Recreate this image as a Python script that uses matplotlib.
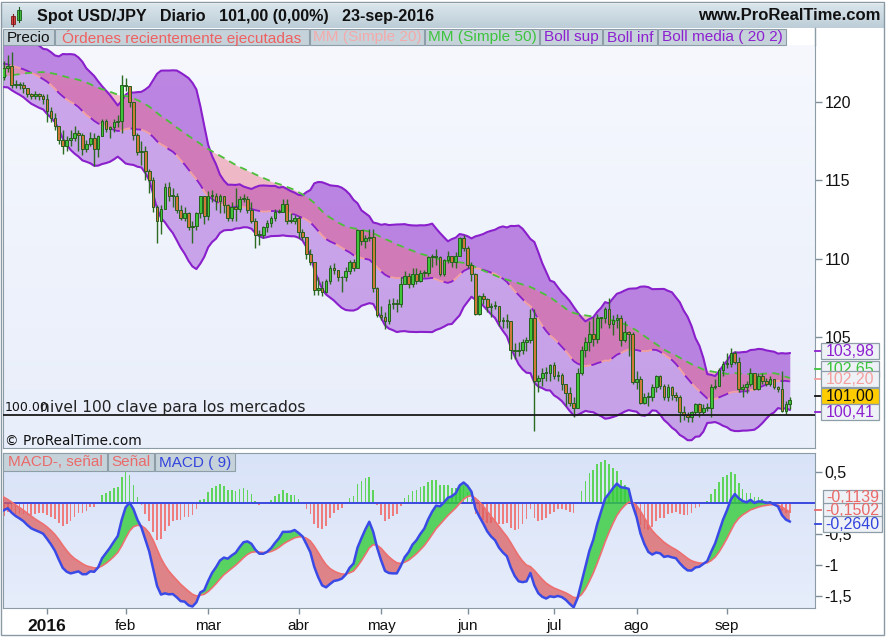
import numpy as np
import pandas as pd
import matplotlib
matplotlib.use('Agg')
import matplotlib.pyplot as plt
from matplotlib.patches import Rectangle

plt.rcParams['font.family'] = ['Liberation Sans', 'DejaVu Sans']

# ---------------- data (USD/JPY daily) ----------------
warmup_close = [120.0, 120.2, 120.1, 119.8, 120.6, 119.9, 119.8, 119.9, 119.9, 119.9,
                120.4, 120.2, 120.0, 119.9, 120.2, 120.0, 119.7, 118.8, 118.9, 119.4,
                119.4, 119.8, 119.9, 120.0, 121.5, 121.1, 120.4, 121.1, 121.0, 120.6,
                120.6, 121.0, 121.3, 121.6, 123.2, 123.2, 123.2, 122.9, 122.6, 122.6,
                123.2, 123.4, 123.7, 122.8, 122.8, 122.8, 122.5, 122.5, 122.6, 122.8,
                123.1, 122.9, 123.2, 122.6, 123.2, 123.3, 123.0, 121.6, 121.6, 120.9,
                120.7, 121.6]

close = [122.2, 122.3, 121.1, 121.1, 121.1, 120.9, 120.5, 120.4, 120.5, 120.4, 120.2,
         119.4, 119.0, 118.5, 117.6, 117.2, 117.6, 117.7, 118.0, 117.9, 117.0, 117.3, 117.7, 117.0, 117.8, 118.8, 118.3, 118.4, 118.7, 118.8, 121.1,
         121.0, 120.0, 117.9, 116.8, 116.9, 115.6, 115.0, 113.3, 112.4, 113.2, 114.6, 114.0, 114.0, 113.1, 112.6, 112.9, 112.0, 112.1, 112.9, 114.0, 112.7,
         114.0, 114.0, 113.7, 114.0, 113.4, 112.6, 113.3, 113.2, 113.8, 113.8, 113.1, 112.4, 111.5, 111.5, 112.0, 112.3, 112.6, 113.0, 113.0, 113.5, 112.4, 112.4, 112.6,
         111.7, 111.4, 110.3, 109.8, 108.0, 108.1, 107.9, 108.6, 109.4, 109.3, 108.8, 108.8, 109.2, 109.8, 109.4, 111.8, 111.1, 111.3, 111.4, 108.1, 106.4,
         106.3, 106.0, 107.1, 107.2, 107.1, 108.4, 108.9, 108.4, 109.0, 108.6, 109.1, 109.1, 110.1, 110.1, 110.1, 109.0, 109.9, 110.2, 109.8, 110.2, 111.3, 110.7,
         109.6, 109.0, 106.5, 107.6, 107.4, 106.9, 107.0, 107.0, 106.0, 106.1, 106.0, 104.2, 104.1, 104.2, 104.7, 104.8, 106.2, 102.2, 102.4, 102.7, 102.7, 103.2,
         102.5, 102.6, 102.0, 101.4, 100.8, 100.5, 102.7, 104.2, 104.7, 105.2, 104.9, 106.2, 106.2, 106.8, 105.8, 106.1, 106.2, 104.8, 105.3, 105.2, 102.1,
         102.3, 100.8, 101.2, 101.2, 101.8, 102.5, 101.9, 101.2, 101.8, 101.3, 101.2, 100.2, 100.0, 99.9, 100.2, 100.7, 100.2, 100.5, 100.5, 101.8, 101.9, 102.9, 103.3,
         103.3, 104.0, 103.4, 101.7, 101.8, 102.0, 102.7, 101.7, 102.5, 102.2, 102.0, 102.3, 101.8, 101.7, 100.3, 100.7, 101.0]

high = [122.6, 123.0, 123.2, 121.4, 121.3, 121.3, 120.9, 120.6, 120.7, 120.6, 120.5,
        120.5, 119.7, 119.3, 118.5, 118.2, 117.8, 118.2, 118.5, 118.2, 118.0, 117.6, 118.1, 118.0, 117.9, 118.9, 118.9, 118.5, 118.9, 119.2, 121.7,
        121.5, 121.0, 120.0, 118.0, 117.5, 117.2, 115.7, 115.2, 113.4, 113.4, 114.8, 114.9, 114.5, 114.2, 113.4, 113.3, 113.0, 112.4, 113.0, 114.0, 114.0,
        114.3, 114.4, 114.2, 114.1, 113.7, 113.5, 113.6, 114.5, 114.0, 114.1, 114.0, 113.6, 112.6, 111.8, 112.1, 112.5, 112.7, 113.2, 113.2, 113.8, 113.8, 112.9, 112.8,
        112.7, 111.9, 111.4, 110.6, 109.8, 108.8, 108.6, 108.7, 109.6, 109.7, 109.3, 108.9, 109.5, 109.9, 110.0, 111.9, 111.8, 111.5, 111.9, 111.9, 108.2,
        107.0, 106.6, 107.4, 107.5, 107.4, 108.8, 109.2, 109.1, 109.4, 109.4, 109.3, 109.3, 110.2, 110.3, 110.6, 110.2, 110.0, 110.5, 110.2, 110.4, 111.4, 111.5,
        110.8, 109.8, 109.1, 107.7, 107.8, 107.5, 107.2, 107.3, 107.0, 106.3, 106.5, 106.0, 104.6, 104.7, 104.9, 105.0, 106.8, 106.8, 102.6, 103.0, 103.1, 103.3,
        103.4, 102.8, 102.7, 101.9, 101.8, 101.2, 103.0, 104.4, 105.0, 106.0, 106.3, 106.5, 106.3, 106.9, 107.5, 106.4, 106.5, 106.4, 106.0, 105.4, 105.3,
        102.8, 102.5, 101.4, 101.5, 102.0, 102.6, 102.6, 102.0, 102.0, 101.9, 101.5, 101.3, 100.6, 100.2, 100.3, 100.8, 100.8, 100.7, 100.8, 102.0, 102.3, 103.0, 103.5,
        104.0, 104.3, 104.1, 103.7, 102.0, 102.2, 103.0, 102.7, 102.7, 102.7, 102.4, 102.5, 102.1, 101.9, 102.8, 100.9, 101.2]

low = [121.4, 121.9, 120.9, 120.9, 120.8, 120.6, 120.3, 120.2, 120.2, 120.1, 119.9,
       118.7, 118.7, 118.2, 117.3, 116.7, 116.9, 117.2, 117.5, 116.9, 116.6, 116.8, 117.2, 115.9, 116.5, 117.8, 118.1, 117.7, 118.1, 118.4, 118.0,
       120.7, 119.7, 117.6, 116.6, 116.0, 115.0, 114.2, 113.0, 111.0, 111.6, 113.2, 113.7, 113.3, 112.9, 112.5, 112.4, 111.8, 111.0, 111.8, 112.6, 112.2,
       112.5, 113.6, 113.1, 112.9, 112.9, 112.4, 112.4, 112.4, 113.0, 113.6, 112.9, 112.3, 110.7, 110.9, 111.3, 111.7, 112.0, 112.4, 112.9, 113.1, 112.2, 112.3, 112.2,
       111.3, 111.2, 110.0, 109.6, 107.7, 107.7, 107.6, 107.8, 108.4, 109.0, 108.6, 107.9, 108.6, 109.0, 109.2, 109.5, 110.9, 110.7, 111.1, 107.9, 106.3,
       106.1, 105.5, 105.8, 106.8, 106.6, 106.9, 108.4, 108.1, 108.2, 108.4, 108.5, 108.8, 108.9, 109.5, 109.6, 108.9, 108.9, 109.7, 109.5, 109.4, 110.3, 110.5,
       109.4, 108.6, 106.4, 106.4, 107.1, 106.6, 106.3, 106.8, 105.7, 105.6, 105.6, 103.6, 103.6, 103.8, 103.9, 104.1, 104.6, 99.0, 101.5, 101.9, 102.2, 102.2,
       102.3, 102.2, 101.6, 100.6, 100.6, 99.9, 100.8, 102.6, 103.7, 104.1, 104.4, 104.6, 105.6, 105.9, 105.6, 105.1, 105.6, 104.4, 104.7, 103.8, 102.0,
       101.7, 100.7, 100.7, 100.6, 100.9, 101.5, 101.7, 101.0, 100.9, 101.0, 100.9, 99.6, 99.7, 99.6, 99.6, 100.0, 99.9, 100.1, 100.3, 99.9, 101.7, 101.9, 102.5,
       103.0, 103.1, 103.3, 101.5, 101.2, 101.4, 101.9, 101.6, 101.6, 102.0, 101.9, 101.9, 101.7, 101.5, 100.2, 100.1, 100.4]

first_day, last_day = '2015-12-16', '2016-09-23'
holidays = ['2015-12-25', '2016-01-01']
month_names = {1: '2016', 2: 'feb', 3: 'mar', 4: 'abr', 5: 'may', 6: 'jun',
               7: 'jul', 8: 'ago', 9: 'sep'}
price_ticks = [105, 110, 115, 120]
macd_ticks = [0.5, -0.5, -1.0, -1.5]
macd_tick_labels = ['0,5', '-0,5', '-1', '-1,5']
level_100 = 100.00
# last values shown in the right-hand boxes
last_boll_sup, last_mm50, last_mm20, last_price, last_boll_inf = 103.98, 102.65, 102.20, 101.00, 100.41
last_hist, last_signal, last_macd = -0.1139, -0.1502, -0.2640

# ---------------- derived ----------------
dates = pd.bdate_range(first_day, last_day)
dates = dates[~dates.isin(pd.to_datetime(holidays))]
N = len(close)
assert len(dates) == N and len(high) == N and len(low) == N

s = pd.Series(warmup_close + close)
sma20 = s.rolling(20).mean()
sd20 = s.rolling(20).std(ddof=0)
bup = sma20 + 2 * sd20
bdn = sma20 - 2 * sd20
sma50 = s.rolling(50).mean()
ema12 = s.ewm(span=12, adjust=False).mean()
ema26 = s.ewm(span=26, adjust=False).mean()
macd = ema12 - ema26
sig = macd.ewm(span=9, adjust=False).mean()
hist = macd - sig

W0 = len(warmup_close)
k0 = W0 - 1  # include one hidden point on the left so lines enter from the edge
xl = np.arange(-1, N)
def tail(series):
    return series.values[k0:]
BU, BD, M20, M50 = tail(bup), tail(bdn), tail(sma20), tail(sma50)
MA, SG, HI = tail(macd), tail(sig), tail(hist)

cl = np.array(close); hi = np.array(high); lo = np.array(low)
op = np.concatenate([[warmup_close[-1]], cl[:-1]])
x = np.arange(N)

# ---------------- figure ----------------
Wp, Hp = 887, 637
def fx(p): return p / Wp
def fy(p): return 1 - p / Hp

fig = plt.figure(figsize=(Wp / 100, Hp / 100), dpi=100)
fig.patch.set_facecolor('white')

L, R = 3, 815
ax = fig.add_axes([fx(L), fy(448), (R - L) / Wp, (448 - 45) / Hp])
ax2 = fig.add_axes([fx(L), fy(608), (R - L) / Wp, (608 - 453) / Hp])

xlim = ((3 - 3.8) / 3.93, (815 - 3.8) / 3.93)

g = np.linspace(0, 1, 256).reshape(-1, 1)
def grad_bg(a, top, bot):
    c1 = np.array(matplotlib.colors.to_rgb(top)); c2 = np.array(matplotlib.colors.to_rgb(bot))
    img = c1[None, None, :] * (1 - g[:, :, None]) + c2[None, None, :] * g[:, :, None]
    a.imshow(img, extent=[0, 1, 0, 1], transform=a.transAxes, aspect='auto', zorder=0)

grad_bg(ax, '#f6f8fe', '#e8eefa')
grad_bg(ax2, '#d9e3f8', '#e6edfb')

# Bollinger band fills
ax.fill_between(xl, BU, M20, color='#9a3fd2', alpha=0.62, lw=0, zorder=1)
ax.fill_between(xl, M20, BD, color='#a455d8', alpha=0.5, lw=0, zorder=1)
# MM20 / MM50 fill
ax.fill_between(xl, M20, M50, color='#ee7088', alpha=0.45, lw=0, zorder=2)

ax.plot(xl, BU, color='#8a1fcc', lw=1.5, zorder=3)
ax.plot(xl, BD, color='#8a1fcc', lw=1.5, zorder=3)
ax.plot(xl, M20, color='#8a1fcc', lw=1.3, linestyle=(0, (6, 6)), zorder=3)
ax.plot(xl, M20, color='#f2a0a0', lw=1.3, linestyle=(6, (6, 6)), zorder=3)
ax.plot(xl, M50, color='#4cbf3a', lw=1.3, linestyle=(0, (4, 3)), zorder=3)

# candles
up = cl >= op
body_lo = np.minimum(op, cl)
body_h = np.maximum(np.abs(cl - op), 0.05)
ax.vlines(x, lo, hi, color='#2b6b22', lw=1.0, zorder=4)
ax.bar(x, body_h, bottom=body_lo, width=0.68,
       color=np.where(up, '#3fc43a', '#d2773a'), edgecolor='#25601e', lw=0.7, zorder=5)

ax.axhline(level_100, color='#1a1a1a', lw=1.3, zorder=6)

ax.set_xlim(*xlim)
ax.set_ylim(120 - (448 - 102) / 15.667, 120 + (102 - 45) / 15.667)
ax.yaxis.tick_right()
ax.set_yticks(price_ticks)
ax.set_yticklabels([str(t) for t in price_ticks])
ax.tick_params(axis='y', direction='out', length=5, width=1, color='#7f8f99',
               labelsize=11.5, pad=2, labelcolor='#111111')
ax.set_xticks([])
ax.spines['top'].set_visible(False)
for sp in ['left', 'right', 'bottom']:
    ax.spines[sp].set_color('#8c9ca6')

# MACD panel
hc = np.where(HI >= 0, '#5fd45a', '#ef7c7c')
ax2.bar(xl, HI, width=0.42, color=hc, lw=0, zorder=1)
ax2.axhline(0, color='#3a48e0', lw=1.4, zorder=2)
ax2.fill_between(xl, MA, SG, where=MA >= SG, interpolate=True, color='#35cc3a', alpha=0.8, lw=0, zorder=3)
ax2.fill_between(xl, MA, SG, where=MA < SG, interpolate=True, color='#dd5b5b', alpha=0.72, lw=0, zorder=3)
ax2.plot(xl, SG, color='#ee6f6f', lw=1.2, zorder=4)
ax2.plot(xl, MA, color='#3a4ae6', lw=1.8, zorder=5)
ax2.set_xlim(*xlim)
ax2.set_ylim(-(608 - 503) / 62.0, (503 - 453) / 62.0)
ax2.yaxis.tick_right()
ax2.set_yticks(macd_ticks)
ax2.set_yticklabels(macd_tick_labels)
ax2.tick_params(axis='y', direction='out', length=5, width=1, color='#7f8f99',
                labelsize=11.5, pad=2, labelcolor='#111111')
months = pd.Series(dates.month)
mpos = [i for i in range(1, N) if months[i] != months[i - 1]]
ax2.set_xticks(mpos)
ax2.set_xticklabels([month_names[months[i]] for i in mpos])
ax2.tick_params(axis='x', direction='out', length=4, width=1, color='#7f8f99',
                labelsize=11, pad=4, labelcolor='#111111')
for lab in ax2.get_xticklabels():
    if lab.get_text() == '2016':
        lab.set_fontweight('bold'); lab.set_fontsize(12.5)
for sp in ['left', 'right', 'bottom', 'top']:
    ax2.spines[sp].set_color('#8c9ca6')

# ---------------- figure-level decorations ----------------
fig.add_artist(Rectangle((fx(1), fy(635)), (884 - 1) / Wp, (635 - 2) / Hp, transform=fig.transFigure,
                         fill=False, ec='#8a9aa4', lw=1.0))
tax = fig.add_axes([fx(2), fy(28), (884 - 2) / Wp, (28 - 4) / Hp])
grad_bg(tax, '#dae5ec', '#bccdd7')
tax.set_xlim(0, 1); tax.set_ylim(0, 1); tax.axis('off')
fig.add_artist(Rectangle((fx(11), fy(24)), 4 / Wp, 8 / Hp, transform=fig.transFigure, fc='#e04040', ec='#7a1a1a', lw=0.6))
fig.add_artist(Rectangle((fx(17), fy(20)), 4 / Wp, 10 / Hp, transform=fig.transFigure, fc='#40c040', ec='#1a5a1a', lw=0.6))
fig.add_artist(plt.Line2D([fx(13), fx(13)], [fy(26), fy(14)], transform=fig.transFigure, color='#7a1a1a', lw=0.8))
fig.add_artist(plt.Line2D([fx(19), fx(19)], [fy(22), fy(7)], transform=fig.transFigure, color='#1a5a1a', lw=0.8))
fig.text(fx(37), fy(16), 'Spot USD/JPY   Diario   101,00 (0,00%)   23-sep-2016', fontsize=11.6,
         fontweight='bold', va='center', ha='left', color='#111111')
fig.text(fx(880), fy(16), 'www.ProRealTime.com', fontsize=12, fontweight='bold',
         va='center', ha='right', color='#111111')
fig.add_artist(plt.Line2D([fx(815), fx(815)], [fy(28), fy(45)], transform=fig.transFigure, color='#8c9ca6', lw=1))

def box(x0, x1, y0, y1, text, color, fc='#c6d2da', fs=11.1, weight='normal'):
    fig.add_artist(Rectangle((fx(x0), fy(y1)), (x1 - x0) / Wp, (y1 - y0) / Hp, transform=fig.transFigure,
                             fc=fc, ec='#8d9ea8', lw=0.8, zorder=10))
    fig.text(fx((x0 + x1) / 2), fy((y0 + y1) / 2 + 0.5), text, color=color, fontsize=fs, va='center',
             ha='center', fontweight=weight, zorder=11)

legend_items = [(3, 54, 'Precio', '#111111'),
                (55, 309, 'Órdenes recientemente ejecutadas', '#ef6060'),
                (310, 424, 'MM (Simple 20)', '#f4aaaa'),
                (425, 539, 'MM (Simple 50)', '#3cc43c'),
                (540, 602, 'Boll sup', '#8e20d0'),
                (603, 657, 'Boll inf', '#8e20d0'),
                (658, 786, 'Boll media ( 20 2)', '#8e20d0')]
for x0, x1, t, c in legend_items:
    box(x0, x1, 29, 45, t, c)

macd_items = [(3, 107, 'MACD-, señal', '#ea6a6a'),
              (108, 154, 'Señal', '#ea6a6a'),
              (155, 235, 'MACD ( 9)', '#3344dd')]
for x0, x1, t, c in macd_items:
    box(x0, x1, 453, 471, t, c, fs=11)

fig.text(fx(5), fy(411), f'{level_100:.2f}', fontsize=9, color='#111111', va='baseline',
         family=['DejaVu Sans'])
fig.text(fx(40), fy(412), 'nivel 100 clave para los mercados', fontsize=11.2, color='#222222',
         va='baseline', family=['DejaVu Sans'])
fig.text(fx(5), fy(441), '© ProRealTime.com', fontsize=9.8, color='#111111', va='center',
         family=['DejaVu Sans'])

def fmt(v, nd=2):
    return f'{v:.{nd}f}'.replace('.', ',')

zcount = [20]
def vbox(yc, text, color, fc='#eef2f6', tick_color=None, x0=821, x1=879, h=16, fs=11.5):
    z = zcount[0]; zcount[0] += 2
    if tick_color:
        fig.add_artist(plt.Line2D([fx(815), fx(821)], [fy(yc), fy(yc)], transform=fig.transFigure,
                                  color=tick_color, lw=1.3, zorder=z))
    fig.add_artist(Rectangle((fx(x0), fy(yc + h / 2)), (x1 - x0) / Wp, h / Hp, transform=fig.transFigure,
                             fc=fc, ec='#8d9ea8', lw=0.9, zorder=z))
    fig.text(fx((x0 + x1) / 2), fy(yc + 0.5), text, color=color, fontsize=fs, va='center', ha='center',
             zorder=z + 1)

vbox(351, fmt(last_boll_sup), '#8e20d0', tick_color='#8e20d0')
vbox(369, fmt(last_mm50), '#3cc43c', tick_color='#3cc43c')
vbox(379, fmt(last_mm20), '#f4a0a0', tick_color='#f4a0a0')
vbox(396, fmt(last_price), '#111111', fc='#ffcc00', tick_color='#111111')
vbox(412, fmt(last_boll_inf), '#8e20d0', tick_color='#8e20d0')

vbox(497, fmt(last_hist, 4), '#ea6a6a', x0=823, x1=882, h=14)
vbox(510, fmt(last_signal, 4), '#ea6a6a', x0=823, x1=882, h=14, tick_color='#ea6a6a')
vbox(524, fmt(last_macd, 4), '#3344dd', x0=823, x1=882, h=16, tick_color='#3344dd')

fig.savefig('out.png', dpi=100)
